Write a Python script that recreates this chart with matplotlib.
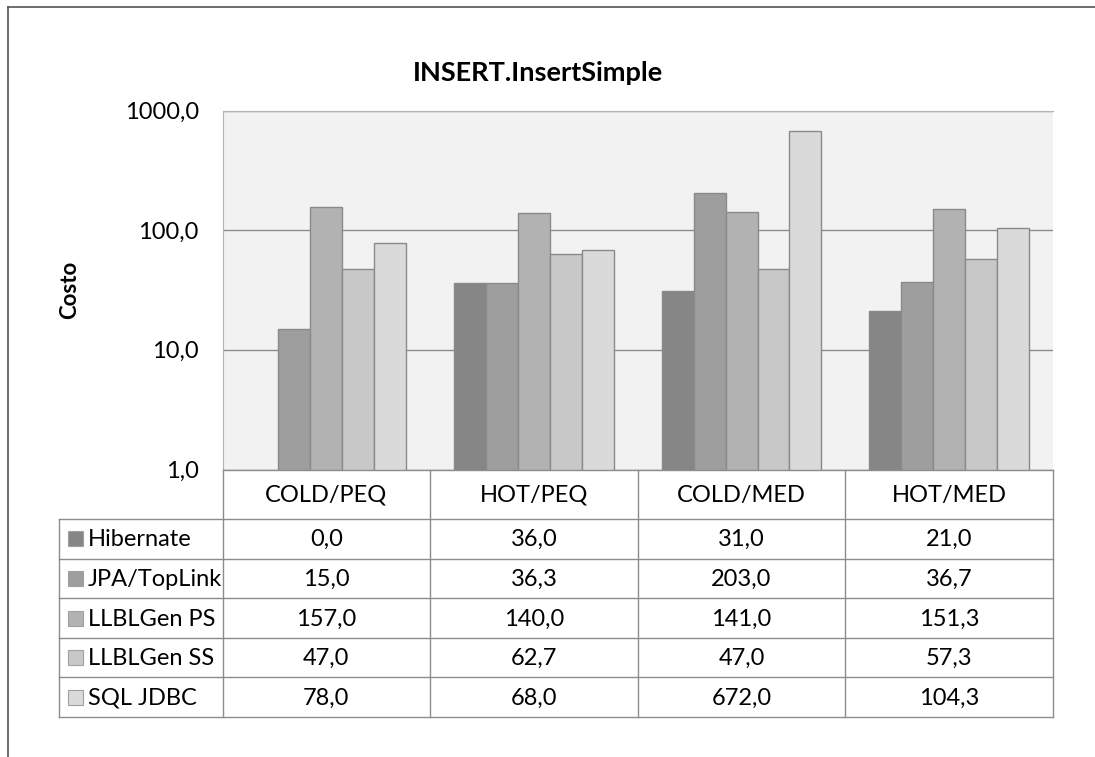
import numpy as np
import matplotlib
matplotlib.use("Agg")
import matplotlib.pyplot as plt
from matplotlib.patches import Rectangle

plt.rcParams['font.family'] = ['Lato', 'DejaVu Sans']

# datos
categorias = ['COLD/PEQ', 'HOT/PEQ', 'COLD/MED', 'HOT/MED']
series = ['Hibernate', 'JPA/TopLink', 'LLBLGen PS', 'LLBLGen SS', 'SQL JDBC']
hibernate = [0.0, 36.0, 31.0, 21.0]
jpa_toplink = [15.0, 36.3, 203.0, 36.7]
llblgen_ps = [157.0, 140.0, 141.0, 151.3]
llblgen_ss = [47.0, 62.7, 47.0, 57.3]
sql_jdbc = [78.0, 68.0, 672.0, 104.3]
valores = [hibernate, jpa_toplink, llblgen_ps, llblgen_ss, sql_jdbc]
ticks_y = [1, 10, 100, 1000]

colores = ['#868686', '#9e9e9e', '#b2b2b2', '#c8c8c8', '#dadada']
borde = '#8a8a8a'
linea = '#8c8c8c'
fs = 17

W, H = 1095, 757
fig = plt.figure(figsize=(W / 100, H / 100), dpi=100)

# area del grafico (pixeles)
x0, x1 = 222.5, 1053
y_top, y_bot = 110.5, 469.5
ax = fig.add_axes([x0 / W, 1 - y_bot / H, (x1 - x0) / W, (y_bot - y_top) / H])
ax.set_facecolor('#f2f2f2')
ax.set_yscale('log')
ax.set_ylim(1, 1000)
ax.set_xlim(-0.5, len(categorias) - 0.5)

ancho = 1 / 6.5
xs = np.arange(len(categorias))
for k, (vals, col) in enumerate(zip(valores, colores)):
    v = np.array(vals, dtype=float)
    v = np.where(v > 0, v, np.nan)
    ax.bar(xs + (k - 2) * ancho, v, width=ancho, color=col, edgecolor=borde,
           linewidth=1.0, zorder=3)

ax.set_yticks(ticks_y)
ax.set_yticklabels([f'{t:.1f}'.replace('.', ',') for t in ticks_y], fontsize=fs)
ax.yaxis.set_minor_locator(matplotlib.ticker.NullLocator())
ax.tick_params(axis='y', length=0, pad=17)
ax.set_xticks([])
ax.grid(axis='y', color='#8c8c8c', linewidth=1.0, zorder=1)
for s in ['right', 'bottom']:
    ax.spines[s].set_visible(False)
ax.spines['top'].set_color('#b4b4b4')
ax.spines['left'].set_color('#b4b4b4')

# capa en pixeles para tabla, titulo y marco
ov = fig.add_axes([0, 0, 1, 1], facecolor='none')
ov.set_xlim(0, W)
ov.set_ylim(H, 0)
ov.axis('off')

ov.plot([8, 8], [7, H], color='#555555', lw=1.2)
ov.plot([8, W], [7, 7], color='#555555', lw=1.2)

ov.text(538, 73, 'INSERT.InsertSimple', ha='center', va='center',
        fontsize=19.5, fontweight='bold')
ov.text(70, 290, 'Costo', ha='center', va='center', rotation=90,
        fontsize=16, fontweight='bold')

# tabla de datos
tab_x0 = 59
col_b = np.linspace(x0, x1, len(categorias) + 1)
hdr_bot = 519
fila_h = 39.6
filas_b = hdr_bot + fila_h * np.arange(len(series) + 1)

kw = dict(color=linea, lw=1.0)
ov.plot([x0, x0], [y_bot, filas_b[-1]], **kw)
ov.plot([x1, x1], [y_bot, filas_b[-1]], **kw)
for xb in col_b[1:-1]:
    ov.plot([xb, xb], [y_bot, filas_b[-1]], **kw)
ov.plot([x0, x1], [y_bot, y_bot], **kw)
ov.plot([tab_x0, tab_x0], [filas_b[0], filas_b[-1]], **kw)
for yb in filas_b:
    ov.plot([tab_x0, x1], [yb, yb], **kw)

for j, cat in enumerate(categorias):
    ov.text((col_b[j] + col_b[j + 1]) / 2, (y_bot + hdr_bot) / 2 + 1, cat,
            ha='center', va='center', fontsize=fs)

for i, (nombre, vals, col) in enumerate(zip(series, valores, colores)):
    yc = (filas_b[i] + filas_b[i + 1]) / 2
    ov.add_patch(Rectangle((67.5, yc - 7.5), 15, 15, facecolor=col,
                           edgecolor='#a0a0a0', lw=0.8))
    ov.text(88, yc + 1, nombre, ha='left', va='center', fontsize=fs)
    for j, v in enumerate(vals):
        ov.text((col_b[j] + col_b[j + 1]) / 2, yc + 1,
                f'{v:.1f}'.replace('.', ','), ha='center', va='center',
                fontsize=fs)

fig.savefig('out.png', dpi=100)
